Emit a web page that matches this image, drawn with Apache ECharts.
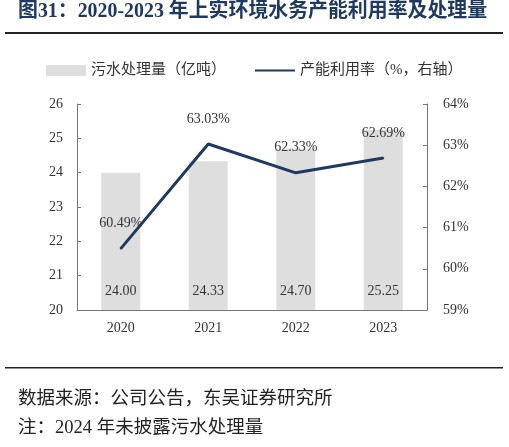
<!DOCTYPE html>
<html><head><meta charset="utf-8">
<script src="https://cdn.jsdelivr.net/npm/echarts@6/dist/echarts.min.js"></script>
<style>html,body{margin:0;padding:0;background:#fff}#c{width:509px;height:447px}</style>
</head><body><div id="c"></div>
<script>
const categories = ['2020','2021','2022','2023'];
const volume = [24.00, 24.33, 24.70, 25.25];
const utilization = [60.49, 63.03, 62.33, 62.69];
const leftTicks = {min:20, max:26, interval:1};
const rightTicks = {min:59, max:64, interval:1};

const serif = '"Liberation Serif","Times New Roman",serif';
const cjk = '"Liberation Serif","Noto Sans CJK SC",serif';
const chart = echarts.init(document.getElementById('c'));
chart.setOption({
  animation:false,
  backgroundColor:'#fff',
  graphic:[
    {type:'text', left:18, top:2, style:{text:'图31：2020-2023 年上实环境水务产能利用率及处理量', font:'bold 19.9px '+cjk, fill:'#1f3a60'}},
    {type:'rect', shape:{x:5,y:32,width:498,height:2}, style:{fill:'#222'}},
    {type:'rect', shape:{x:5,y:367,width:498,height:1.5}, style:{fill:'#222'}},
    {type:'text', left:18, top:390, style:{text:'数据来源：公司公告，东吴证券研究所', font:'18.5px '+cjk, fill:'#222'}},
    {type:'text', left:18, top:419, style:{text:'注：2024 年未披露污水处理量', font:'18.5px '+cjk, fill:'#222'}}
  ],
  legend:{
    left:46, top:63, padding:0, itemWidth:40, itemHeight:11, itemGap:28,
    textStyle:{fontFamily:cjk, fontSize:15, color:'#333'},
    data:[{name:'污水处理量（亿吨）', icon:'rect'}, {name:'产能利用率（%，右轴）', itemStyle:{opacity:0}}]
  },
  grid:{left:77, right:82, top:104, bottom:137},
  xAxis:{
    type:'category', data:categories,
    axisLine:{lineStyle:{color:'#777'}},
    axisTick:{inside:true, length:4, lineStyle:{color:'#777'}},
    axisLabel:{fontFamily:serif, fontSize:14, color:'#333', margin:11}
  },
  yAxis:[
    {type:'value', min:leftTicks.min, max:leftTicks.max, interval:leftTicks.interval,
     splitLine:{show:false},
     axisLine:{show:true, lineStyle:{color:'#777'}},
     axisTick:{show:true, inside:true, length:4, lineStyle:{color:'#777'}},
     axisLabel:{fontFamily:serif, fontSize:14, color:'#333', margin:14}},
    {type:'value', min:rightTicks.min, max:rightTicks.max, interval:rightTicks.interval,
     splitLine:{show:false},
     axisLine:{show:true, lineStyle:{color:'#777'}},
     axisTick:{show:true, inside:true, length:4, lineStyle:{color:'#777'}},
     axisLabel:{fontFamily:serif, fontSize:14, color:'#333', margin:16, formatter:'{value}%'}}
  ],
  series:[
    {name:'污水处理量（亿吨）', type:'bar', data:volume, barWidth:39,
     itemStyle:{color:'#dedede'},
     label:{show:true, position:'insideBottom', distance:12, fontFamily:serif, fontSize:14, color:'#333',
       formatter:p=>p.value.toFixed(2)}},
    {name:'产能利用率（%，右轴）', type:'line', yAxisIndex:1, data:utilization,
     symbol:'circle', symbolSize:2, showSymbol:true,
     lineStyle:{color:'#1f3a60', width:3}, itemStyle:{color:'#1f3a60'},
     label:{show:true, position:'top', distance:17, fontFamily:serif, fontSize:14, color:'#333',
       formatter:p=>p.value.toFixed(2)+'%'}}
  ]
});
</script></body></html>
